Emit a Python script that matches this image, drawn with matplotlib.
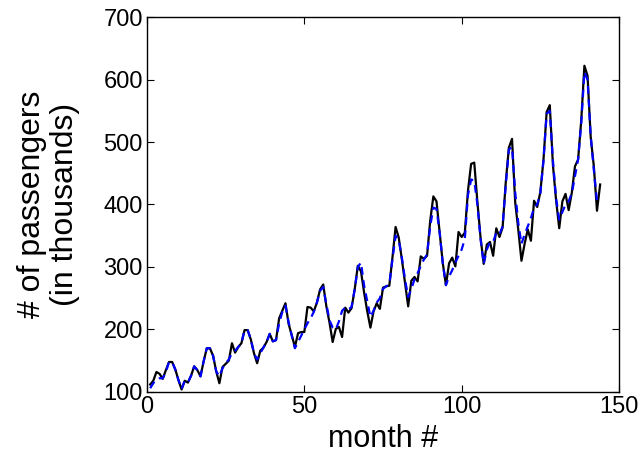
import matplotlib
matplotlib.use("Agg")
import matplotlib.pyplot as plt
import numpy as np

# Monthly airline passengers (thousands), 1949-1960
passengers = [
    112, 118, 132, 129, 121, 135, 148, 148, 136, 119, 104, 118,
    115, 126, 141, 135, 125, 149, 170, 170, 158, 133, 114, 140,
    145, 150, 178, 163, 172, 178, 199, 199, 184, 162, 146, 166,
    171, 180, 193, 181, 183, 218, 230, 242, 209, 191, 172, 194,
    196, 196, 236, 235, 229, 243, 264, 272, 237, 211, 180, 201,
    204, 188, 235, 227, 234, 264, 302, 293, 259, 229, 203, 229,
    242, 233, 267, 269, 270, 315, 364, 347, 312, 274, 237, 278,
    284, 277, 317, 313, 318, 374, 413, 405, 355, 306, 271, 306,
    315, 301, 356, 348, 355, 422, 465, 467, 404, 347, 305, 336,
    340, 318, 362, 348, 363, 435, 491, 505, 404, 359, 310, 337,
    360, 342, 406, 396, 420, 472, 548, 559, 463, 407, 362, 405,
    417, 391, 419, 461, 472, 535, 622, 606, 508, 461, 390, 432,
]

# Model estimate (blue dashed)
estimate = [
    106, 114, 120, 122, 122, 132, 148, 148, 136, 119, 105, 118,
    115, 126, 141, 135, 125, 149, 170, 170, 158, 133, 125, 138,
    146, 152, 162, 166, 172, 178, 199, 199, 184, 162, 152, 162,
    171, 180, 193, 181, 183, 210, 228, 238, 212, 190, 170, 180,
    190, 200, 210, 218, 228, 243, 262, 268, 240, 215, 203, 200,
    213, 230, 235, 232, 236, 264, 300, 307, 270, 245, 220, 230,
    243, 250, 265, 269, 272, 312, 350, 343, 315, 280, 252, 265,
    280, 290, 302, 312, 320, 365, 395, 393, 355, 306, 271, 285,
    295, 307, 318, 328, 345, 415, 440, 438, 400, 345, 305, 328,
    340, 340, 355, 352, 365, 430, 488, 492, 420, 370, 337, 352,
    365, 378, 395, 400, 418, 470, 545, 550, 470, 410, 376, 388,
    400, 405, 418, 445, 472, 530, 612, 600, 510, 455, 405,
]

x_ticks = [0, 50, 100, 150]
y_ticks = [100, 200, 300, 400, 500, 600, 700]

plt.rcParams['font.family'] = ['Liberation Sans', 'DejaVu Sans']

fig = plt.figure(figsize=(6.43, 4.55), dpi=100)
ax = fig.add_axes([0.2286, 0.1385, 0.9627 - 0.2286, 0.9626 - 0.1385])

months = np.arange(1, len(passengers) + 1)
months_est = np.arange(1, len(estimate) + 1)
ax.plot(months, passengers, color='black', linewidth=1.6)
ax.plot(months_est, estimate, color='#0000ff', linewidth=1.6,
        linestyle=(0, (3.5, 2.5)))

ax.set_xlim(0, 150)
ax.set_ylim(100, 700)
ax.set_xticks(x_ticks)
ax.set_yticks(y_ticks)
ax.tick_params(direction='in', length=5, width=0.8, labelsize=17,
               top=True, right=True, pad=3)
for s in ax.spines.values():
    s.set_linewidth(1.0)

ax.set_xlabel('month #', fontsize=22, labelpad=4)
ax.set_ylabel('# of passengers\n(in thousands)', fontsize=23, labelpad=17,
              linespacing=1.1)

fig.savefig('out.png', dpi=100)
